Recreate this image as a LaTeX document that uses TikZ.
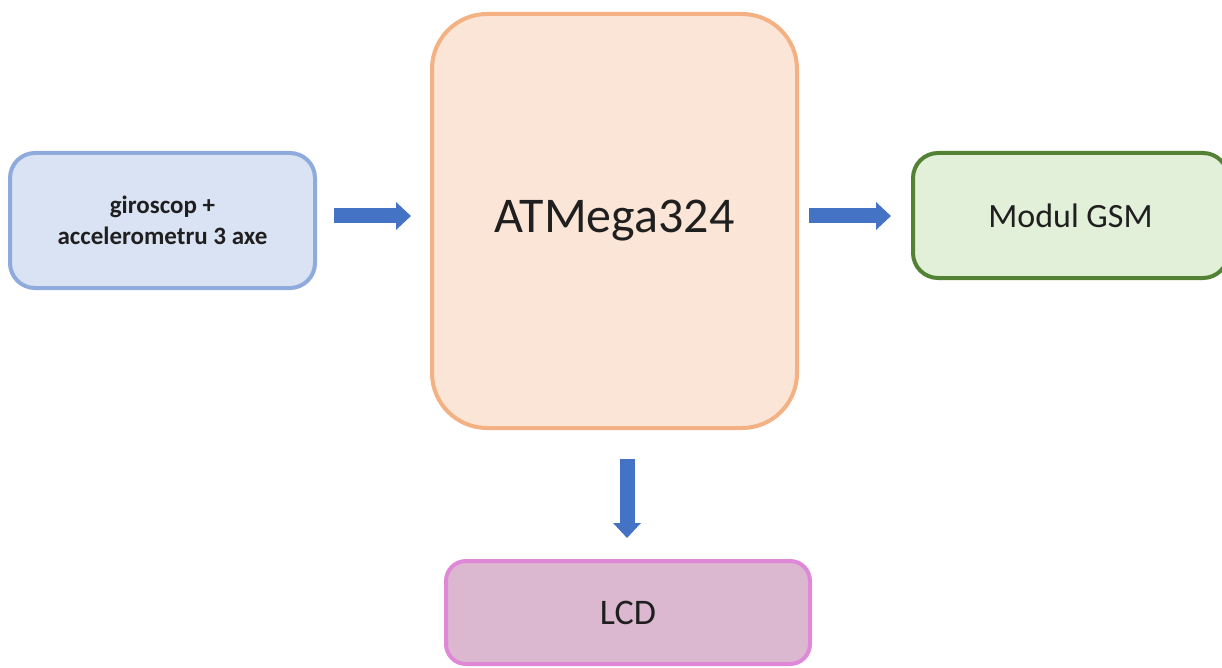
\documentclass[tikz,border=0pt]{standalone}
\usepackage{fontspec}
\setmainfont{Carlito}
\usepackage{tikz}
\usetikzlibrary{arrows.meta}
\definecolor{albfill}{HTML}{DAE3F3}
\definecolor{albline}{HTML}{8FAADC}
\definecolor{orfill}{HTML}{FBE5D6}
\definecolor{orline}{HTML}{F4B183}
\definecolor{vfill}{HTML}{E2F0D9}
\definecolor{vline}{HTML}{548235}
\definecolor{rzfill}{HTML}{DBB8D0}
\definecolor{rzline}{HTML}{DF88D8}
\definecolor{sageata}{HTML}{4472C4}

\begin{document}
\begin{tikzpicture}[x=1pt, y=-1pt,
  bloc/.style={draw, line width=4pt, inner sep=0pt, align=center, text=black!88},
  sag/.style={draw=sageata, line width=15pt, -{Triangle[width=27pt, length=15pt]}}]
\useasboundingbox (0,0) rectangle (1222,668);

  \node[bloc, fill=albfill, draw=albline, rounded corners=25pt, minimum width=305pt, minimum height=135pt,
    font=\fontsize{25}{31}\selectfont\bfseries] (senzor) at (162.5,220.5) {giroscop +\\accelerometru 3 axe};
  \node[bloc, fill=orfill, draw=orline, rounded corners=55pt, minimum width=365pt, minimum height=414pt,
    font=\fontsize{50}{58}\selectfont] (mcu) at (614.5,221) {ATMega324};
  \node[bloc, fill=vfill, draw=vline, rounded corners=25pt, minimum width=315pt, minimum height=125pt,
    font=\fontsize{34}{40}\selectfont] (gsm) at (1070.5,215.5) {Modul GSM};
  \node[bloc, fill=rzfill, draw=rzline, rounded corners=20pt, minimum width=364pt, minimum height=103pt,
    font=\fontsize{36}{40}\selectfont] (lcd) at (628,612.5) {LCD};

  \draw[sag, shorten <=17pt, shorten >=19pt] (senzor.east |- 0,216) -- (mcu.west |- 0,216);
  \draw[sag, shorten <=10pt, shorten >=20pt] (mcu.east |- 0,216) -- (gsm.west |- 0,216);
  \draw[sag, shorten <=29pt, shorten >=21pt] (627,0 |- mcu.south) -- (627,0 |- lcd.north);

\end{tikzpicture}
\end{document}
